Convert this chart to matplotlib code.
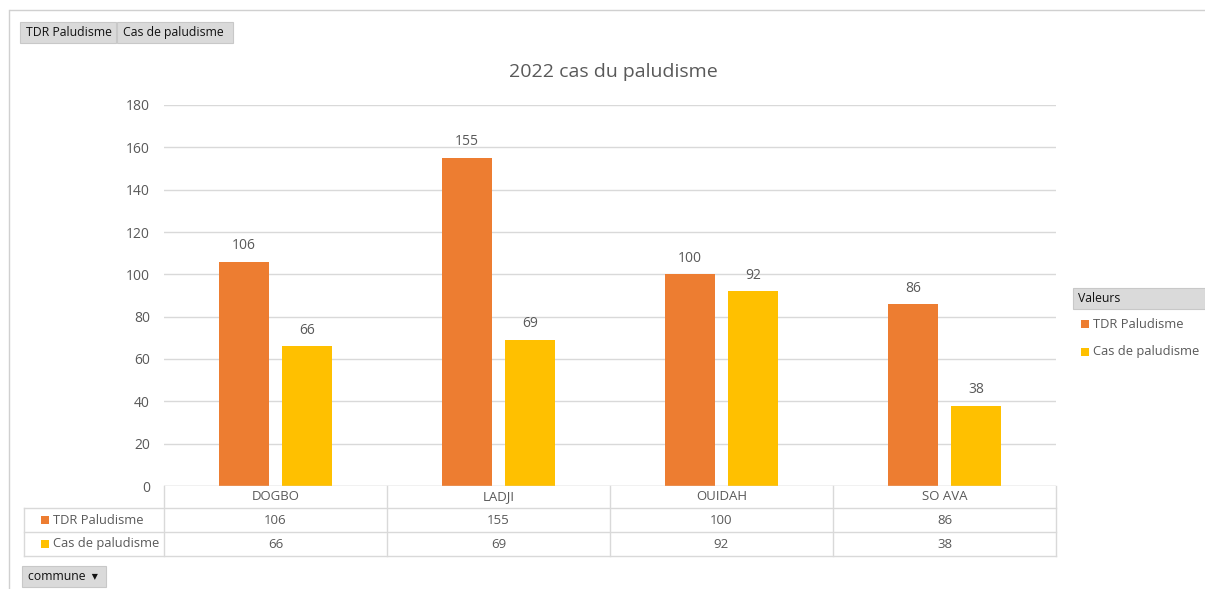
import numpy as np
import matplotlib.pyplot as plt
from matplotlib.patches import Rectangle

communes = ['DOGBO', 'LADJI', 'OUIDAH', 'SO AVA']
tdr = [106, 155, 100, 86]
cas = [66, 69, 92, 38]
series_names = ['TDR Paludisme', 'Cas de paludisme']
colors = ['#ED7D31', '#FFC000']
yticks = [0, 20, 40, 60, 80, 100, 120, 140, 160, 180]

plt.rcParams['font.family'] = ['Open Sans', 'DejaVu Sans']
txt = '#595959'
grid = '#D9D9D9'

W, H = 1205, 589
fig = plt.figure(figsize=(W / 100, H / 100), dpi=100)


def fx(px):
    return px / W


def fy(py):
    return 1 - py / H


# outer frame of the pivot chart
fig.add_artist(plt.Line2D([fx(10), 1], [fy(10), fy(10)], color='#D0D0D0', lw=1))
fig.add_artist(plt.Line2D([fx(9), fx(9)], [fy(10), 0], color='#D0D0D0', lw=1))


def button(x0, y0, x1, y1, label):
    fig.add_artist(Rectangle((fx(x0), fy(y1)), fx(x1 - x0), (y1 - y0) / H,
                             facecolor='#DADADA', edgecolor='#C8C8C8', lw=0.8))
    fig.text(fx(x0 + 6), fy((y0 + y1) / 2), label, fontsize=8.8, color='#111111',
             va='center', ha='left')


button(20, 22, 116, 43, 'TDR Paludisme')
button(117, 22, 233, 43, 'Cas de paludisme')
button(22, 566, 106, 587, 'commune  \u25be')

# main plot
left, right, top, bottom = 164, 1056, 105, 486
ax = fig.add_axes([fx(left), fy(bottom), fx(right - left), (bottom - top) / H])
x = np.arange(len(communes))
bw = 0.224
off = 0.141
for vals, c, sgn in [(tdr, colors[0], -1), (cas, colors[1], 1)]:
    bars = ax.bar(x + sgn * off, vals, width=bw, color=c, zorder=3)
    for b, v in zip(bars, vals):
        ax.text(b.get_x() + b.get_width() / 2, v + 4, str(v), ha='center', va='bottom',
                fontsize=10, color=txt)

ax.set_xlim(-0.5, len(communes) - 0.5)
ax.set_ylim(0, 180)
ax.set_yticks(yticks)
ax.tick_params(axis='y', length=0, labelsize=10, labelcolor=txt, pad=10)
ax.set_xticks([])
ax.grid(axis='y', color=grid, lw=1, zorder=0)
for s in ax.spines.values():
    s.set_visible(False)
ax.axhline(0, color=grid, lw=1, zorder=4)

fig.text(fx(613), fy(72), '2022 cas du paludisme', ha='center', va='center',
         fontsize=14, color=txt)

# data table under the axis
rows = [486, 508, 532, 556]
col_edges = [left + i * (right - left) / len(communes) for i in range(len(communes) + 1)]
for r in rows[1:]:
    fig.add_artist(plt.Line2D([fx(24), fx(right)], [fy(r), fy(r)], color=grid, lw=1))
fig.add_artist(plt.Line2D([fx(24), fx(24)], [fy(508), fy(556)], color=grid, lw=1))
for ce in col_edges:
    fig.add_artist(plt.Line2D([fx(ce), fx(ce)], [fy(486), fy(556)], color=grid, lw=1))

for i, name in enumerate(communes):
    cx = (col_edges[i] + col_edges[i + 1]) / 2
    fig.text(fx(cx), fy(497), name, ha='center', va='center', fontsize=9.5, color=txt)
    fig.text(fx(cx), fy(520), str(tdr[i]), ha='center', va='center', fontsize=9.5, color=txt)
    fig.text(fx(cx), fy(544), str(cas[i]), ha='center', va='center', fontsize=9.5, color=txt)

for yy, name, c in [(520, series_names[0], colors[0]), (544, series_names[1], colors[1])]:
    fig.add_artist(Rectangle((fx(41), fy(yy + 4)), fx(8), 8 / H, facecolor=c, edgecolor='none'))
    fig.text(fx(53), fy(yy), name, ha='left', va='center', fontsize=9.3, color=txt)

# legend
fig.add_artist(Rectangle((fx(1073), fy(309)), fx(132), 21 / H,
                         facecolor='#DADADA', edgecolor='#C8C8C8', lw=0.8))
fig.text(fx(1078), fy(298), 'Valeurs', ha='left', va='center', fontsize=8.8, color='#111111')
for yy, name, c in [(324, series_names[0], colors[0]), (352, series_names[1], colors[1])]:
    fig.add_artist(Rectangle((fx(1081), fy(yy + 4)), fx(8), 8 / H, facecolor=c, edgecolor='none'))
    fig.text(fx(1093), fy(yy), name, ha='left', va='center', fontsize=9.3, color=txt)

fig.savefig('out.png', dpi=100)
